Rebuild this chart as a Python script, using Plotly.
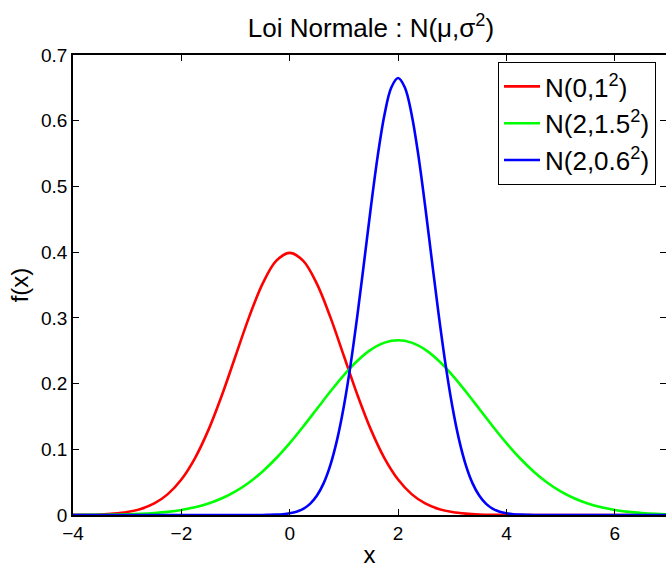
import plotly.graph_objects as go

# x grid for the red and green curves (step 0.25 from -4 to 7)
x_values = [-4 + 0.25 * i for i in range(45)]

# N(0,1^2)
red_values = [0.00013, 0.00035, 0.00087, 0.00203, 0.00443, 0.00909, 0.01753, 0.03174,
              0.05399, 0.08628, 0.12952, 0.18265, 0.24197, 0.30114, 0.35207, 0.38667,
              0.39894, 0.38667, 0.35207, 0.30114, 0.24197, 0.18265, 0.12952, 0.08628,
              0.05399, 0.03174, 0.01753, 0.00909, 0.00443, 0.00203, 0.00087, 0.00035,
              0.00013, 0.00005, 0.00002, 0.00001, 0, 0, 0, 0, 0, 0, 0, 0, 0]

# N(2,1.5^2)
green_values = [0.00009, 0.00017, 0.00032, 0.00058, 0.00103, 0.00177, 0.00295, 0.00480,
                0.00760, 0.01169, 0.01748, 0.02543, 0.03599, 0.04954, 0.06632, 0.08635,
                0.10934, 0.13467, 0.16131, 0.18794, 0.21297, 0.23471, 0.25159, 0.26229,
                0.26596, 0.26229, 0.25159, 0.23471, 0.21297, 0.18794, 0.16131, 0.13467,
                0.10934, 0.08635, 0.06632, 0.04954, 0.03599, 0.02543, 0.01748, 0.01169,
                0.00760, 0.00480, 0.00295, 0.00177, 0.00103]

# N(2,0.6^2): finer grid (step 0.125) around the peak
blue_x = ([-4, -3, -2, -1, -0.75] + [-0.5 + 0.125 * i for i in range(41)]
          + [4.75, 5, 6, 7])
blue_values = [0, 0, 0, 0, 0.00002,
               0.00011, 0.00026, 0.00059, 0.00126, 0.00257, 0.00504, 0.00945, 0.01698,
               0.02921, 0.04812, 0.07591, 0.11464, 0.16580, 0.22958, 0.30442, 0.38648,
               0.46985, 0.54693, 0.60962, 0.65063, 0.66490, 0.65063, 0.60962, 0.54693,
               0.46985, 0.38648, 0.30442, 0.22958, 0.16580, 0.11464, 0.07591, 0.04812,
               0.02921, 0.01698, 0.00945, 0.00504, 0.00257, 0.00126, 0.00059, 0.00026,
               0.00011,
               0.00002, 0, 0, 0]

series_names = ["N(0,1<sup>2</sup>)", "N(2,1.5<sup>2</sup>)", "N(2,0.6<sup>2</sup>)"]
series_colors = ["#ff0000", "#00ff00", "#0000ff"]
series_x = [x_values, x_values, blue_x]
series_values = [red_values, green_values, blue_values]

x_ticks = [-4, -2, 0, 2, 4, 6]
y_ticks = [0, 0.1, 0.2, 0.3, 0.4, 0.5, 0.6, 0.7]
y_tick_labels = ["0", "0.1", "0.2", "0.3", "0.4", "0.5", "0.6", "0.7"]

FONT = "Liberation Sans, Arial, Helvetica, sans-serif"

fig = go.Figure()
for name, color, xs, vals in zip(series_names, series_colors, series_x, series_values):
    fig.add_trace(go.Scatter(x=xs, y=vals, mode="lines", name=name,
                             line=dict(color=color, width=2.6, shape="spline", smoothing=1.0)))

# invisible trace on a right-side y axis: mirrored ticks without an axis line
fig.add_trace(go.Scatter(x=[x_values[0]], y=[0], yaxis="y2", mode="lines",
                         showlegend=False, hoverinfo="skip", line=dict(width=0)))

fig.update_layout(
    width=666, height=568, autosize=False,
    margin=dict(l=73, r=0, t=55, b=53),
    paper_bgcolor="white", plot_bgcolor="white",
    font=dict(family=FONT, color="black", size=19),
    title=dict(text="Loi Normale : N(μ,σ<sup>2</sup>)", x=(371 / 666), xanchor="center",
               y=1 - 28 / 568, yanchor="middle", font=dict(size=26, family=FONT)),
    xaxis=dict(range=[-4, 6.945], tickvals=x_ticks, ticks="inside", ticklen=6,
               tickcolor="black", showline=True, linecolor="black", linewidth=1.5,
               mirror="ticks", showgrid=False, zeroline=False,
               title=dict(text="x", font=dict(size=24), standoff=6),
               tickfont=dict(size=19)),
    yaxis=dict(range=[0, 0.7], tickvals=y_ticks, ticktext=y_tick_labels, ticks="inside",
               ticklen=6, tickcolor="black", showline=True, linecolor="black",
               linewidth=1.5, showgrid=False, zeroline=False,
               title=dict(text="f(x)", font=dict(size=24), standoff=6),
               tickfont=dict(size=19)),
    yaxis2=dict(range=[0, 0.7], tickvals=y_ticks, overlaying="y", side="right",
                ticks="inside", ticklen=6, tickcolor="black", showticklabels=False,
                showline=False, showgrid=False, zeroline=False),
    legend=dict(x=(498 - 73) / 593, y=(515 - 62) / 460, xanchor="left", yanchor="top",
                bgcolor="white", bordercolor="black", borderwidth=1,
                font=dict(size=26, family=FONT), tracegroupgap=0, itemwidth=36),
    showlegend=True,
)

fig.write_html("out.html", config={"displayModeBar": False},
               post_script="document.body.style.margin='0px';")
